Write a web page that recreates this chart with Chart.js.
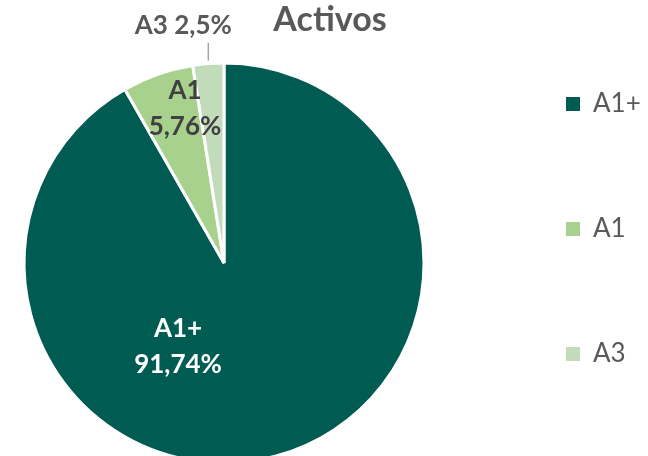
<!DOCTYPE html>
<html lang="es">
<head>
  <meta charset="UTF-8">
  <title>Activos</title>
  <script src="https://cdn.jsdelivr.net/npm/chart.js"></script>
  <style>
    html, body { margin: 0; padding: 0; background: #fff; }
    body { width: 648px; height: 456px; overflow: hidden; position: relative; }
    /* canvas is a bit larger than the window: the pie runs off the bottom edge */
    #wrap { position: absolute; left: -20px; top: -20px; }
  </style>
</head>
<body>
  <div id="wrap"><canvas id="pieChart" width="700" height="520"></canvas></div>

  <script>
    // Data
    const categories = ['A1+', 'A1', 'A3'];
    const shares = [91.74, 5.76, 2.5];
    const sliceColors = ['#005C53', '#A9D18E', '#C2DCBB'];

    const fontFamily = 'Lato, "Open Sans", sans-serif';

    // label placement, relative to pie centre in units of the radius
    const labelSpots = [
      {dx: -0.23, dy: 0.42, color: '#ffffff', outside: false},
      {dx: -0.195, dy: -0.77, color: '#404040', outside: false},
      {dx: 0, dy: 0, color: '#595959', outside: true}
    ];

    function fmt(v) {
      return String(v).replace('.', ',') + '%';
    }

    // Slice labels drawn from the arc elements
    const sliceLabels = {
      id: 'sliceLabels',
      afterDatasetsDraw(chart) {
        const ctx = chart.ctx;
        const meta = chart.getDatasetMeta(0);
        ctx.save();
        ctx.font = 'bold 26px ' + fontFamily;
        ctx.textAlign = 'center';
        ctx.textBaseline = 'middle';
        meta.data.forEach((arc, i) => {
          const p = arc.getProps(['x', 'y', 'startAngle', 'endAngle', 'outerRadius'], true);
          const spot = labelSpots[i];
          ctx.fillStyle = spot.color;
          if (spot.outside) {
            const mid = (p.startAngle + p.endAngle) / 2;
            const lx = p.x + Math.cos(mid) * p.outerRadius;
            const r1 = p.outerRadius + 3, r2 = p.outerRadius + 21;
            ctx.strokeStyle = '#A6A6A6';
            ctx.lineWidth = 1.5;
            ctx.beginPath();
            ctx.moveTo(lx, p.y + Math.sin(mid) * r1);
            ctx.lineTo(lx, p.y + Math.sin(mid) * r2);
            ctx.stroke();
            ctx.fillText(categories[i] + ' ' + fmt(shares[i]), lx - 25, p.y + Math.sin(mid) * (r2 + 17));
          } else {
            const cx = p.x + spot.dx * p.outerRadius;
            const cy = p.y + spot.dy * p.outerRadius;
            ctx.fillText(categories[i], cx, cy - 18);
            ctx.fillText(fmt(shares[i]), cx, cy + 18);
          }
        });
        ctx.restore();
      }
    };

    new Chart(document.getElementById('pieChart'), {
      type: 'pie',
      data: {
        labels: categories,
        datasets: [{
          data: shares,
          backgroundColor: sliceColors,
          borderColor: '#ffffff',
          borderWidth: 3,
          radius: 200
        }]
      },
      options: {
        responsive: false,
        animation: false,
        layout: { padding: { left: 1, right: 1, top: 0, bottom: 22 } },
        plugins: {
          tooltip: { enabled: false },
          title: {
            display: true,
            text: 'Activos',
            color: '#595959',
            font: { family: fontFamily, size: 34, weight: 'bold', lineHeight: 1.2 },
            padding: { top: 19.6, bottom: 7.6 }
          },
          legend: {
            position: 'right',
            maxWidth: 212,
            labels: {
              color: '#595959',
              font: { family: fontFamily, size: 26 },
              boxWidth: 14,
              boxHeight: 14,
              padding: 99,
              generateLabels(chart) {
                const items = Chart.controllers.pie.overrides.plugins.legend.labels.generateLabels(chart);
                items.forEach(it => {
                  it.lineWidth = 0;
                  it.strokeStyle = it.fillStyle;
                  // trailing em spaces widen the legend column so the title sits where it should
                  it.text = it.text + '\u2003\u2003';
                });
                return items;
              }
            }
          }
        }
      },
      plugins: [sliceLabels]
    });
  </script>
</body>
</html>
